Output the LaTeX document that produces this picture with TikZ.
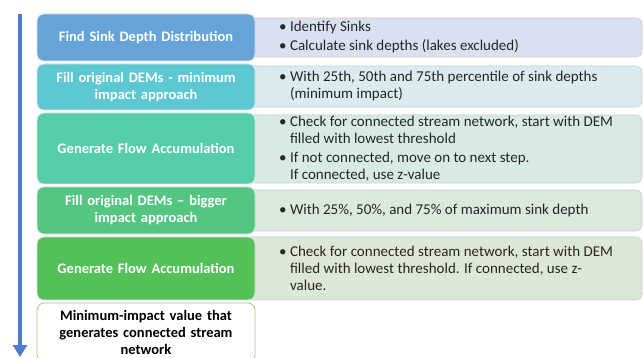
\documentclass[tikz,border=0pt]{standalone}
\usepackage{fontspec}
\setmainfont{Carlito}
\usetikzlibrary{arrows.meta}
\definecolor{lstepa}{HTML}{66A3D9}
\definecolor{lstepb}{HTML}{5CC8D2}
\definecolor{lstepc}{HTML}{56CDAA}
\definecolor{lstepd}{HTML}{54C682}
\definecolor{lstepe}{HTML}{54C058}
\definecolor{lresult}{HTML}{9CCB7E}
\definecolor{rinfoa}{HTML}{D9E0F1}
\definecolor{rinfob}{HTML}{DAEBEF}
\definecolor{rinfoc}{HTML}{D8EBE2}
\definecolor{rinfod}{HTML}{DAE9DB}
\definecolor{rinfoe}{HTML}{DCE7D6}
\definecolor{flowblue}{HTML}{4A7CCB}
\newcommand{\hangin}{\phantom{\textbullet\ }}
\tikzset{stepbox/.style={draw=white!75!gray,line width=0.8pt,rounded corners=7pt,minimum width=218pt,text width=212pt,align=center,text=white,inner sep=0pt,font=\bfseries\fontsize{14.5}{17}\selectfont},
         infobox/.style={draw=black!20,line width=0.6pt,rounded corners=6pt,minimum width=397pt,inner sep=0pt},
         infotext/.style={anchor=west,align=left,text=black!85,inner sep=0pt,font=\fontsize{15}{17}\selectfont},
         flowarrow/.style={draw=flowblue,line width=4pt,-{Triangle[width=14pt,length=12pt]}}}

\begin{document}
\begin{tikzpicture}[x=1pt,y=-1pt]
        \useasboundingbox (0,0) rectangle (643,358);
        \node[infobox,fill=rinfoa,minimum height=39pt](r1)at(443.5,37.5){};
        \node[infobox,fill=rinfob,minimum height=41pt](r2)at(443.5,86.5){};
        \node[infobox,fill=rinfoc,minimum height=68pt](r3)at(443.5,149){};
        \node[infobox,fill=rinfod,minimum height=41pt](r4)at(443.5,210.5){};
        \node[infobox,fill=rinfoe,minimum height=63pt](r5)at(443.5,268.5){};
        \node[infotext](t1)at(279,37.5){\textbullet\ Identify Sinks\\[2pt]\textbullet\ Calculate sink depths (lakes excluded)};
        \node[infotext](t2)at(279,86.5){\textbullet\ With 25th, 50th and 75th percentile of sink depths\\\hangin(minimum impact)};
        \node[infotext](t3)at(279,149){\textbullet\ Check for connected stream network, start with DEM\\\hangin filled with lowest threshold\\[2pt]\textbullet\ If not connected, move on to next step.\\\hangin If connected, use z-value};
        \node[infotext](t4)at(279,210.5){\textbullet\ With 25\%, 50\%, and 75\% of maximum sink depth};
        \node[infotext](t5)at(279,268.5){\textbullet\ Check for connected stream network, start with DEM\\\hangin filled with lowest threshold. If connected, use z-\\\hangin value.};
        \node[stepbox,fill=lstepa,minimum height=47pt](l1)at(146,37.5){Find Sink Depth Distribution};
        \node[stepbox,fill=lstepb,minimum height=46pt](l2)at(146,87){Fill original DEMs - minimum\\impact approach};
        \node[stepbox,fill=lstepc,minimum height=71pt](l3)at(146,148.5){Generate Flow Accumulation};
        \node[stepbox,fill=lstepd,minimum height=47pt](l4)at(146,210.5){Fill original DEMs -- bigger\\impact approach};
        \node[stepbox,fill=lstepe,minimum height=63pt](l5)at(146,268.5){Generate Flow Accumulation};
        \node[stepbox,fill=white,draw=lresult,text=black,minimum height=59pt](l6)at(146,332.5){Minimum-impact value that\\generates connected stream\\network};
        \coordinate(flowtop)at(20,14);
        \coordinate(flowend)at(20,357);
        \draw[flowarrow](flowtop)--(flowend);
    \end{tikzpicture}
\end{document}
